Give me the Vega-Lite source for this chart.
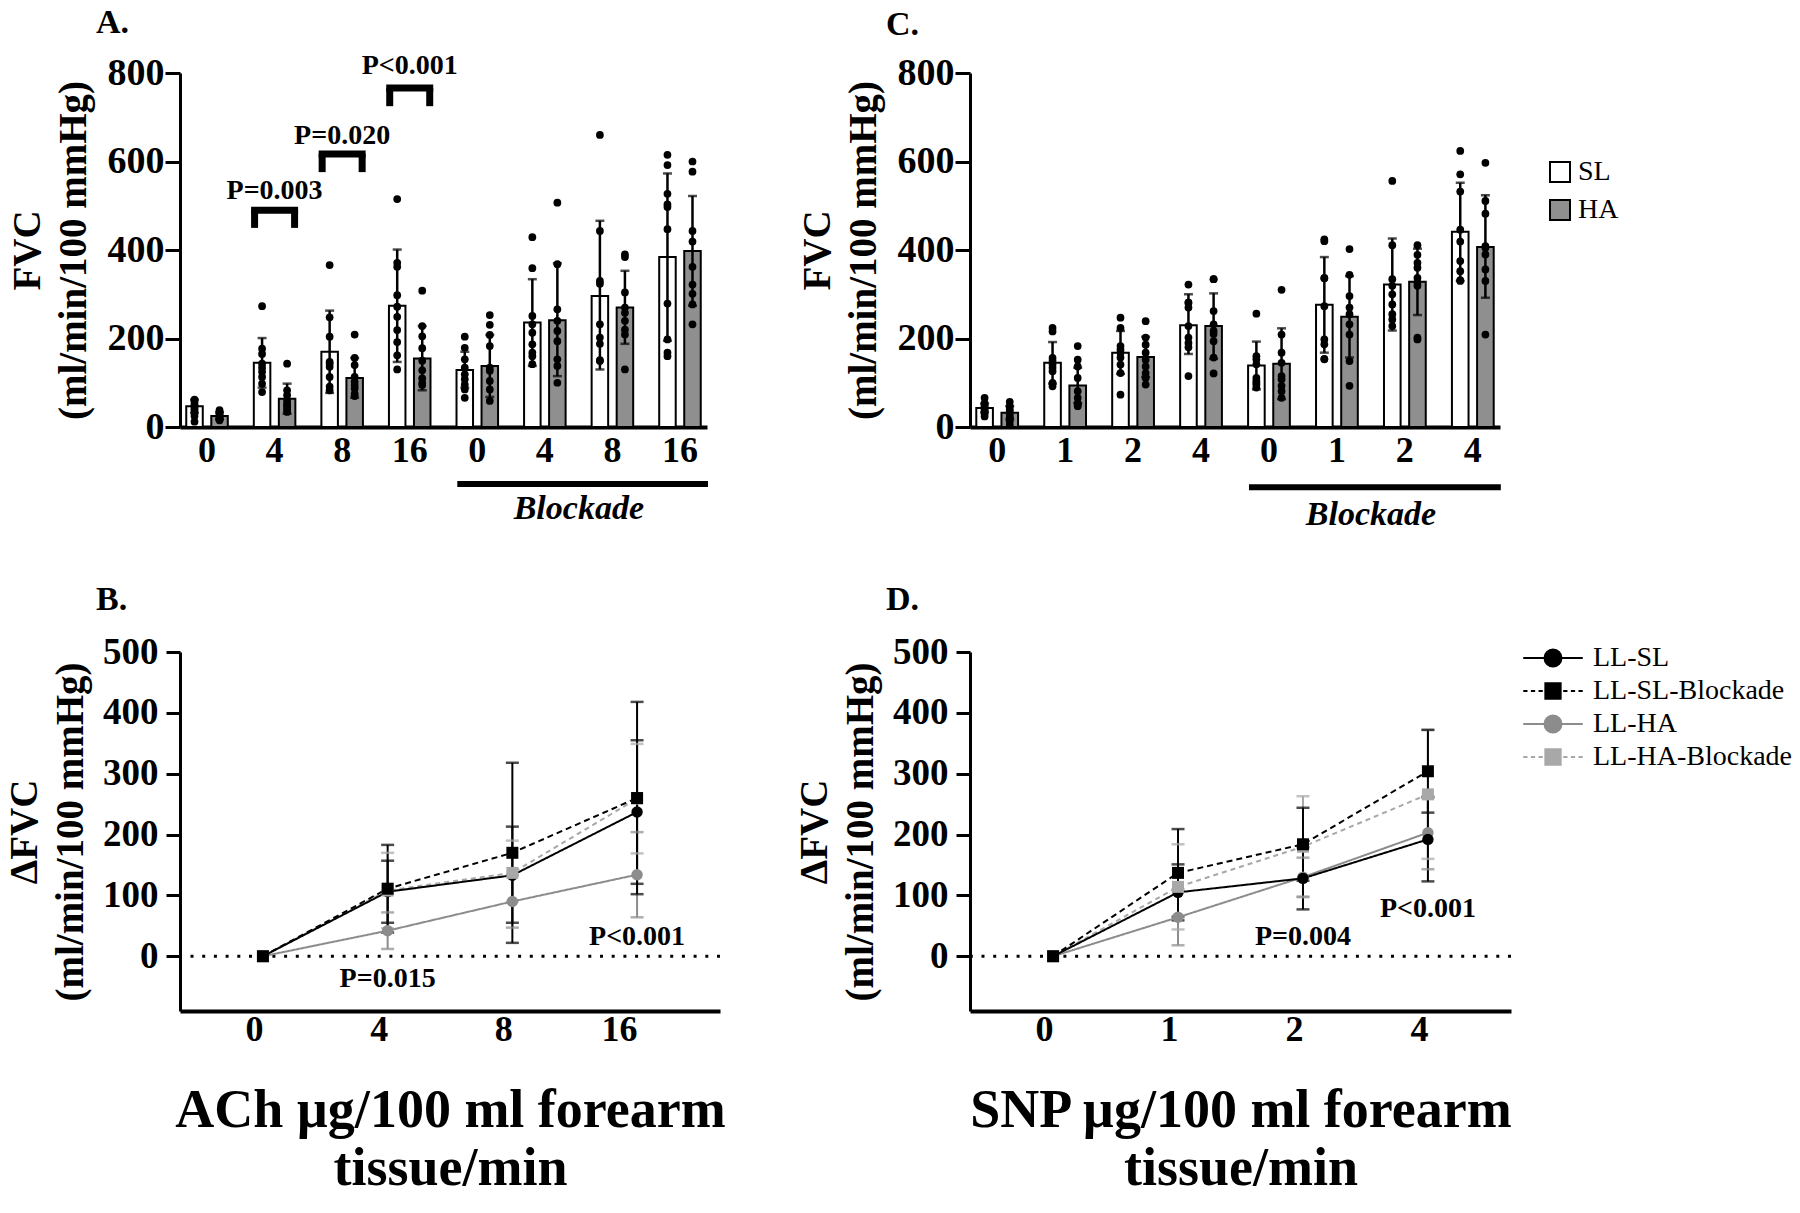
{
  "$schema": "https://vega.github.io/schema/vega-lite/v6.json",
  "background": "white",
  "padding": {"left": 5, "top": 5, "right": 5, "bottom": 5},
  "config": {
    "font": "Liberation Serif",
    "view": {"stroke": null},
    "axis": {"grid": false, "domainColor": "black", "tickColor": "black", "labelColor": "black", "titleColor": "black", "labelFont": "Liberation Serif", "titleFont": "Liberation Serif", "labelFontWeight": "bold", "titleFontWeight": "bold", "labelOverlap": false, "labelFlush": false},
    "legend": {"labelFont": "Liberation Serif", "labelColor": "black"},
    "title": {"font": "Liberation Serif", "fontWeight": "bold", "fontSize": 34, "color": "black", "anchor": "start", "frame": "group"}
  },
  "datasets": {
    "A_bars": [
      {"cat": "0", "group": "SL", "mean": 47, "lo": 32, "hi": 62},
      {"cat": "0", "group": "HA", "mean": 25, "lo": 17, "hi": 33},
      {"cat": "4", "group": "SL", "mean": 145, "lo": 89, "hi": 201},
      {"cat": "4", "group": "HA", "mean": 64, "lo": 30, "hi": 98},
      {"cat": "8", "group": "SL", "mean": 170, "lo": 77, "hi": 263},
      {"cat": "8", "group": "HA", "mean": 111, "lo": 66, "hi": 156},
      {"cat": "16", "group": "SL", "mean": 274, "lo": 147, "hi": 401},
      {"cat": "16", "group": "HA", "mean": 155, "lo": 83, "hi": 228},
      {"cat": "B0", "group": "SL", "mean": 129, "lo": 89, "hi": 170},
      {"cat": "B0", "group": "HA", "mean": 138, "lo": 68, "hi": 208},
      {"cat": "B4", "group": "SL", "mean": 236, "lo": 138, "hi": 334},
      {"cat": "B4", "group": "HA", "mean": 241, "lo": 115, "hi": 370},
      {"cat": "B8", "group": "SL", "mean": 296, "lo": 130, "hi": 466},
      {"cat": "B8", "group": "HA", "mean": 270, "lo": 188, "hi": 353},
      {"cat": "B16", "group": "SL", "mean": 384, "lo": 195, "hi": 573},
      {"cat": "B16", "group": "HA", "mean": 398, "lo": 274, "hi": 522}
    ],
    "A_dots": [
      {"cat": "0", "group": "SL", "v": [62, 58, 52, 48, 44, 40, 35, 25, 12]},
      {"cat": "0", "group": "HA", "v": [38, 34, 30, 27, 24, 22, 20, 18, 15]},
      {"cat": "4", "group": "SL", "v": [273, 177, 165, 143, 134, 125, 113, 98, 79]},
      {"cat": "4", "group": "HA", "v": [143, 83, 72, 60, 53, 49, 45, 39, 34]},
      {"cat": "8", "group": "SL", "v": [366, 248, 204, 147, 143, 136, 113, 91, 83]},
      {"cat": "8", "group": "HA", "v": [209, 156, 140, 113, 102, 94, 87, 75, 70]},
      {"cat": "16", "group": "SL", "v": [515, 371, 362, 298, 272, 249, 219, 192, 162, 130]},
      {"cat": "16", "group": "HA", "v": [308, 228, 205, 178, 150, 128, 110, 100, 95]},
      {"cat": "B0", "group": "SL", "v": [204, 179, 153, 134, 119, 108, 96, 85, 66]},
      {"cat": "B0", "group": "HA", "v": [253, 231, 208, 183, 134, 127, 104, 85, 59]},
      {"cat": "B4", "group": "SL", "v": [429, 359, 251, 232, 213, 187, 168, 160, 142]},
      {"cat": "B4", "group": "HA", "v": [507, 368, 266, 240, 217, 194, 153, 138, 100]},
      {"cat": "B8", "group": "SL", "v": [660, 443, 330, 324, 232, 202, 188, 151, 149]},
      {"cat": "B8", "group": "HA", "v": [390, 384, 304, 270, 258, 240, 220, 209, 130]},
      {"cat": "B16", "group": "SL", "v": [615, 592, 527, 503, 497, 447, 279, 198, 168, 160]},
      {"cat": "B16", "group": "HA", "v": [600, 577, 443, 419, 362, 322, 301, 277, 232]}
    ],
    "A_br": [
      {"cat": "4", "top": 490, "bot": 450},
      {"cat": "8", "top": 617, "bot": 576},
      {"cat": "16", "top": 766, "bot": 725}
    ],
    "A_p": [
      {"cat": "4", "v": 533, "label": "P=0.003"},
      {"cat": "8", "v": 658, "label": "P=0.020"},
      {"cat": "16", "v": 816, "label": "P<0.001"}
    ],
    "C_bars": [
      {"cat": "0", "group": "SL", "mean": 43, "lo": 33, "hi": 53},
      {"cat": "0", "group": "HA", "mean": 32, "lo": 17, "hi": 47},
      {"cat": "1", "group": "SL", "mean": 145, "lo": 98, "hi": 192},
      {"cat": "1", "group": "HA", "mean": 94, "lo": 54, "hi": 134},
      {"cat": "2", "group": "SL", "mean": 168, "lo": 120, "hi": 217},
      {"cat": "2", "group": "HA", "mean": 158, "lo": 113, "hi": 204},
      {"cat": "4", "group": "SL", "mean": 230, "lo": 165, "hi": 300},
      {"cat": "4", "group": "HA", "mean": 228, "lo": 154, "hi": 302},
      {"cat": "B0", "group": "SL", "mean": 139, "lo": 85, "hi": 193},
      {"cat": "B0", "group": "HA", "mean": 143, "lo": 63, "hi": 223},
      {"cat": "B1", "group": "SL", "mean": 276, "lo": 168, "hi": 384},
      {"cat": "B1", "group": "HA", "mean": 249, "lo": 157, "hi": 341},
      {"cat": "B2", "group": "SL", "mean": 322, "lo": 218, "hi": 426},
      {"cat": "B2", "group": "HA", "mean": 328, "lo": 253, "hi": 403},
      {"cat": "B4", "group": "SL", "mean": 441, "lo": 330, "hi": 552},
      {"cat": "B4", "group": "HA", "mean": 407, "lo": 292, "hi": 524}
    ],
    "C_dots": [
      {"cat": "0", "group": "SL", "v": [66, 54, 50, 47, 42, 39, 35, 30, 24]},
      {"cat": "0", "group": "HA", "v": [57, 47, 40, 35, 28, 22, 20, 13, 5]},
      {"cat": "1", "group": "SL", "v": [224, 216, 156, 149, 141, 134, 126, 100, 92]},
      {"cat": "1", "group": "HA", "v": [183, 152, 137, 111, 81, 66, 54, 51, 47]},
      {"cat": "2", "group": "SL", "v": [247, 224, 183, 175, 168, 157, 141, 122, 73]},
      {"cat": "2", "group": "HA", "v": [239, 202, 186, 168, 152, 137, 122, 111, 96]},
      {"cat": "4", "group": "SL", "v": [322, 281, 281, 270, 228, 202, 190, 180, 115]},
      {"cat": "4", "group": "HA", "v": [334, 334, 262, 232, 217, 210, 194, 157, 121]},
      {"cat": "B0", "group": "SL", "v": [256, 160, 153, 142, 111, 104, 100, 96, 89]},
      {"cat": "B0", "group": "HA", "v": [310, 209, 168, 145, 115, 108, 93, 81, 66]},
      {"cat": "B1", "group": "SL", "v": [424, 420, 337, 336, 273, 198, 187, 154, 153]},
      {"cat": "B1", "group": "HA", "v": [402, 344, 296, 270, 255, 232, 209, 149, 93]},
      {"cat": "B2", "group": "SL", "v": [556, 411, 334, 319, 300, 277, 255, 243, 228]},
      {"cat": "B2", "group": "HA", "v": [411, 389, 371, 360, 337, 326, 319, 202, 198]},
      {"cat": "B4", "group": "SL", "v": [624, 571, 532, 446, 419, 375, 352, 332, 330]},
      {"cat": "B4", "group": "HA", "v": [597, 511, 482, 409, 405, 390, 356, 330, 209]}
    ],
    "B_lines": [
      {"series": "LL-HA-Blockade", "dose": "0", "mean": 0, "lo": 0, "hi": 0},
      {"series": "LL-HA-Blockade", "dose": "4", "mean": 108, "lo": 46, "hi": 170},
      {"series": "LL-HA-Blockade", "dose": "8", "mean": 137, "lo": 90, "hi": 190},
      {"series": "LL-HA-Blockade", "dose": "16", "mean": 259, "lo": 169, "hi": 349},
      {"series": "LL-HA", "dose": "0", "mean": 0, "lo": 0, "hi": 0},
      {"series": "LL-HA", "dose": "4", "mean": 42, "lo": 12, "hi": 72},
      {"series": "LL-HA", "dose": "8", "mean": 90, "lo": 47, "hi": 133},
      {"series": "LL-HA", "dose": "16", "mean": 134, "lo": 64, "hi": 204},
      {"series": "LL-SL", "dose": "0", "mean": 0, "lo": 0, "hi": 0},
      {"series": "LL-SL", "dose": "4", "mean": 106, "lo": 55, "hi": 157},
      {"series": "LL-SL", "dose": "8", "mean": 133, "lo": 55, "hi": 213},
      {"series": "LL-SL", "dose": "16", "mean": 237, "lo": 119, "hi": 355},
      {"series": "LL-SL-Blockade", "dose": "0", "mean": 0, "lo": 0, "hi": 0},
      {"series": "LL-SL-Blockade", "dose": "4", "mean": 111, "lo": 39, "hi": 183},
      {"series": "LL-SL-Blockade", "dose": "8", "mean": 170, "lo": 22, "hi": 318},
      {"series": "LL-SL-Blockade", "dose": "16", "mean": 260, "lo": 102, "hi": 418}
    ],
    "B_p": [
      {"dose": "4", "v": -38, "label": "P=0.015"},
      {"dose": "16", "v": 31, "label": "P<0.001"}
    ],
    "D_lines": [
      {"series": "LL-HA-Blockade", "dose": "0", "mean": 0, "lo": 0, "hi": 0},
      {"series": "LL-HA-Blockade", "dose": "1", "mean": 114, "lo": 44, "hi": 184},
      {"series": "LL-HA-Blockade", "dose": "2", "mean": 180, "lo": 97, "hi": 263},
      {"series": "LL-HA-Blockade", "dose": "4", "mean": 266, "lo": 160, "hi": 372},
      {"series": "LL-HA", "dose": "0", "mean": 0, "lo": 0, "hi": 0},
      {"series": "LL-HA", "dose": "1", "mean": 64, "lo": 18, "hi": 110},
      {"series": "LL-HA", "dose": "2", "mean": 130, "lo": 98, "hi": 162},
      {"series": "LL-HA", "dose": "4", "mean": 203, "lo": 143, "hi": 263},
      {"series": "LL-SL", "dose": "0", "mean": 0, "lo": 0, "hi": 0},
      {"series": "LL-SL", "dose": "1", "mean": 105, "lo": 59, "hi": 151},
      {"series": "LL-SL", "dose": "2", "mean": 128, "lo": 77, "hi": 179},
      {"series": "LL-SL", "dose": "4", "mean": 192, "lo": 123, "hi": 261},
      {"series": "LL-SL-Blockade", "dose": "0", "mean": 0, "lo": 0, "hi": 0},
      {"series": "LL-SL-Blockade", "dose": "1", "mean": 137, "lo": 65, "hi": 209},
      {"series": "LL-SL-Blockade", "dose": "2", "mean": 184, "lo": 124, "hi": 244},
      {"series": "LL-SL-Blockade", "dose": "4", "mean": 304, "lo": 236, "hi": 372}
    ],
    "D_p": [
      {"dose": "2", "v": 31, "label": "P=0.004"},
      {"dose": "4", "v": 78, "label": "P<0.001"}
    ]
  },
  "columns": 2,
  "spacing": {"row": 225, "column": 250},
  "bounds": "flush",
  "resolve": {
    "scale": {"fill": "independent", "stroke": "independent", "color": "independent", "shape": "independent", "strokeDash": "independent", "strokeWidth": "independent", "xOffset": "independent"},
    "legend": {"fill": "independent", "stroke": "independent", "color": "independent", "shape": "independent", "strokeDash": "independent", "strokeWidth": "independent"}
  },
  "concat": [
    {
      "width": 527, "height": 354,
      "title": {"text": "A.", "dx": -84, "offset": -15, "baseline": "alphabetic"},
      "encoding": {
        "x": {"field": "cat", "type": "nominal", "sort": null,
          "scale": {"domain": ["0", "4", "8", "16", "B0", "B4", "B8", "B16"], "paddingInner": 0.2, "paddingOuter": 0},
          "axis": {"title": null, "labelExpr": "replace(datum.label, 'B', '')", "labelFontSize": 36, "labelPadding": 6, "ticks": false, "domainWidth": 4, "labelAngle": 0}}
      },
      "layer": [
        {"data": {"name": "A_bars"}, "mark": {"type": "bar", "stroke": "black", "strokeWidth": 2},
          "encoding": {
            "xOffset": {"field": "group", "type": "nominal", "sort": null, "scale": {"domain": ["SL", "HA"], "paddingInner": 0.34, "paddingOuter": 0.25}},
            "y": {"field": "mean", "type": "quantitative", "scale": {"domain": [0, 800], "nice": false},
              "axis": {"title": ["FVC", "(ml/min/100 mmHg)"], "values": [0, 200, 400, 600, 800], "labelFontSize": 38, "labelPadding": 1, "tickSize": 15, "tickWidth": 3, "domainWidth": 3, "titleFontSize": 39, "titleLineHeight": 46, "titlePadding": 14}},
            "fill": {"field": "group", "type": "nominal", "scale": {"domain": ["SL", "HA"], "range": ["white", "#8f8f8f"]}, "legend": null}
          }},
        {"data": {"name": "A_bars"}, "mark": {"type": "rule", "color": "black", "strokeWidth": 2.5},
          "encoding": {
            "xOffset": {"field": "group", "type": "nominal", "sort": null, "scale": {"domain": ["SL", "HA"], "paddingInner": 0.34, "paddingOuter": 0.25}},
            "y": {"field": "lo", "type": "quantitative", "scale": {"domain": [0, 800], "nice": false}},
            "y2": {"field": "hi"}
          }},
        {"data": {"name": "A_bars"}, "mark": {"type": "tick", "color": "black", "size": 9, "thickness": 2.5},
          "encoding": {
            "xOffset": {"field": "group", "type": "nominal", "sort": null, "scale": {"domain": ["SL", "HA"], "paddingInner": 0.34, "paddingOuter": 0.25}},
            "y": {"field": "hi", "type": "quantitative", "scale": {"domain": [0, 800], "nice": false}}
          }},
        {"data": {"name": "A_bars"}, "mark": {"type": "tick", "color": "black", "size": 9, "thickness": 2.5},
          "encoding": {
            "xOffset": {"field": "group", "type": "nominal", "sort": null, "scale": {"domain": ["SL", "HA"], "paddingInner": 0.34, "paddingOuter": 0.25}},
            "y": {"field": "lo", "type": "quantitative", "scale": {"domain": [0, 800], "nice": false}}
          }},
        {"data": {"name": "A_dots"}, "transform": [{"flatten": ["v"]}], "mark": {"type": "point", "filled": true, "color": "black", "size": 60, "opacity": 1},
          "encoding": {
            "xOffset": {"field": "group", "type": "nominal", "sort": null, "scale": {"domain": ["SL", "HA"], "paddingInner": 0.34, "paddingOuter": 0.25}},
            "y": {"field": "v", "type": "quantitative", "scale": {"domain": [0, 800], "nice": false}}
          }},
        {"data": {"name": "A_br"}, "mark": {"type": "rule", "color": "black", "strokeWidth": 7, "xOffset": -23.5, "x2Offset": 23.5},
          "encoding": {
            "x2": {"field": "cat"},
            "y": {"field": "top", "type": "quantitative", "scale": {"domain": [0, 800], "nice": false}}
          }},
        {"data": {"name": "A_br"}, "mark": {"type": "rule", "color": "black", "strokeWidth": 7, "xOffset": -20},
          "encoding": {
            "y": {"field": "bot", "type": "quantitative", "scale": {"domain": [0, 800], "nice": false}},
            "y2": {"field": "top"}
          }},
        {"data": {"name": "A_br"}, "mark": {"type": "rule", "color": "black", "strokeWidth": 7, "xOffset": 20},
          "encoding": {
            "y": {"field": "bot", "type": "quantitative", "scale": {"domain": [0, 800], "nice": false}},
            "y2": {"field": "top"}
          }},
        {"data": {"name": "A_p"}, "mark": {"type": "text", "font": "Liberation Serif", "fontWeight": "bold", "fontSize": 28, "color": "black", "baseline": "middle"},
          "encoding": {
            "y": {"field": "v", "type": "quantitative", "scale": {"domain": [0, 800], "nice": false}},
            "text": {"field": "label"}
          }},
        {"data": {"values": [{"cat": "B0", "cat2": "B16"}]}, "mark": {"type": "rule", "color": "black", "strokeWidth": 6, "xOffset": -20, "x2Offset": 28},
          "encoding": {
            "x2": {"field": "cat2"},
            "y": {"datum": -129, "type": "quantitative", "scale": {"domain": [0, 800], "nice": false}}
          }},
        {"data": {"values": [{"cat": "B4", "label": "Blockade"}]}, "mark": {"type": "text", "font": "Liberation Serif", "fontWeight": "bold", "fontStyle": "italic", "fontSize": 34, "color": "black", "baseline": "middle", "dx": 34},
          "encoding": {
            "y": {"datum": -186, "type": "quantitative", "scale": {"domain": [0, 800], "nice": false}},
            "text": {"field": "label"}
          }}
      ]
    },
    {
      "width": 530, "height": 354,
      "title": {"text": "C.", "dx": -84, "offset": -15, "baseline": "alphabetic"},
      "encoding": {
        "x": {"field": "cat", "type": "nominal", "sort": null,
          "scale": {"domain": ["0", "1", "2", "4", "B0", "B1", "B2", "B4"], "paddingInner": 0.2, "paddingOuter": 0},
          "axis": {"title": null, "labelExpr": "replace(datum.label, 'B', '')", "labelFontSize": 36, "labelPadding": 6, "ticks": false, "domainWidth": 4, "labelAngle": 0}}
      },
      "layer": [
        {"data": {"name": "C_bars"}, "mark": {"type": "bar", "stroke": "black", "strokeWidth": 2},
          "encoding": {
            "xOffset": {"field": "group", "type": "nominal", "sort": null, "scale": {"domain": ["SL", "HA"], "paddingInner": 0.34, "paddingOuter": 0.25}},
            "y": {"field": "mean", "type": "quantitative", "scale": {"domain": [0, 800], "nice": false},
              "axis": {"title": ["FVC", "(ml/min/100 mmHg)"], "values": [0, 200, 400, 600, 800], "labelFontSize": 38, "labelPadding": 1, "tickSize": 15, "tickWidth": 3, "domainWidth": 3, "titleFontSize": 39, "titleLineHeight": 46, "titlePadding": 14}},
            "fill": {"field": "group", "type": "nominal", "scale": {"domain": ["SL", "HA"], "range": ["white", "#8f8f8f"]},
              "legend": {"orient": "none", "legendX": 576, "legendY": 85, "title": null, "symbolType": "square", "symbolSize": 400, "symbolStrokeColor": "black", "symbolStrokeWidth": 2, "labelFontSize": 28, "labelFont": "Liberation Serif", "labelFontWeight": "normal", "labelOffset": 4, "labelLimit": 0, "rowPadding": 10, "padding": 0}}
          }},
        {"data": {"name": "C_bars"}, "mark": {"type": "rule", "color": "black", "strokeWidth": 2.5},
          "encoding": {
            "xOffset": {"field": "group", "type": "nominal", "sort": null, "scale": {"domain": ["SL", "HA"], "paddingInner": 0.34, "paddingOuter": 0.25}},
            "y": {"field": "lo", "type": "quantitative", "scale": {"domain": [0, 800], "nice": false}},
            "y2": {"field": "hi"}
          }},
        {"data": {"name": "C_bars"}, "mark": {"type": "tick", "color": "black", "size": 9, "thickness": 2.5},
          "encoding": {
            "xOffset": {"field": "group", "type": "nominal", "sort": null, "scale": {"domain": ["SL", "HA"], "paddingInner": 0.34, "paddingOuter": 0.25}},
            "y": {"field": "hi", "type": "quantitative", "scale": {"domain": [0, 800], "nice": false}}
          }},
        {"data": {"name": "C_bars"}, "mark": {"type": "tick", "color": "black", "size": 9, "thickness": 2.5},
          "encoding": {
            "xOffset": {"field": "group", "type": "nominal", "sort": null, "scale": {"domain": ["SL", "HA"], "paddingInner": 0.34, "paddingOuter": 0.25}},
            "y": {"field": "lo", "type": "quantitative", "scale": {"domain": [0, 800], "nice": false}}
          }},
        {"data": {"name": "C_dots"}, "transform": [{"flatten": ["v"]}], "mark": {"type": "point", "filled": true, "color": "black", "size": 60, "opacity": 1},
          "encoding": {
            "xOffset": {"field": "group", "type": "nominal", "sort": null, "scale": {"domain": ["SL", "HA"], "paddingInner": 0.34, "paddingOuter": 0.25}},
            "y": {"field": "v", "type": "quantitative", "scale": {"domain": [0, 800], "nice": false}}
          }},
        {"data": {"values": [{"cat": "B0", "cat2": "B4"}]}, "mark": {"type": "rule", "color": "black", "strokeWidth": 6, "xOffset": -20, "x2Offset": 28},
          "encoding": {
            "x2": {"field": "cat2"},
            "y": {"datum": -136, "type": "quantitative", "scale": {"domain": [0, 800], "nice": false}}
          }},
        {"data": {"values": [{"cat": "B1", "label": "Blockade"}]}, "mark": {"type": "text", "font": "Liberation Serif", "fontWeight": "bold", "fontStyle": "italic", "fontSize": 34, "color": "black", "baseline": "middle", "dx": 34},
          "encoding": {
            "y": {"datum": -198, "type": "quantitative", "scale": {"domain": [0, 800], "nice": false}},
            "text": {"field": "label"}
          }}
      ]
    },
    {
      "width": 540, "height": 359,
      "title": {"text": "B.", "dx": -84, "offset": -11, "baseline": "alphabetic"},
      "layer": [
        {"data": {"values": [{}]}, "mark": {"type": "rule", "color": "black", "strokeWidth": 3, "strokeDash": [3, 8.7]},
          "encoding": {"y": {"datum": 0, "type": "quantitative", "scale": {"domain": [-90, 500], "nice": false, "zero": false}}}},
        {"data": {"name": "B_lines"}, "transform": [{"filter": "datum.dose != '0'"}], "mark": {"type": "rule"},
          "encoding": {
            "x": {"field": "dose", "type": "ordinal", "sort": null, "scale": {"type": "point", "domain": ["0", "4", "8", "16"], "padding": 0.665}},
            "y": {"field": "lo", "type": "quantitative", "scale": {"domain": [-90, 500], "nice": false, "zero": false}},
            "y2": {"field": "hi"},
            "color": {"field": "series", "type": "nominal", "scale": {"domain": ["LL-HA-Blockade", "LL-HA", "LL-SL", "LL-SL-Blockade"], "range": ["#a8a8a8", "#8c8c8c", "black", "black"]}, "legend": null},
            "strokeWidth": {"field": "series", "type": "ordinal", "scale": {"domain": ["LL-HA-Blockade", "LL-HA", "LL-SL", "LL-SL-Blockade"], "range": [2, 2, 2.5, 2.5]}, "legend": null}
          }},
        {"data": {"name": "B_lines"}, "transform": [{"filter": "datum.dose != '0'"}], "mark": {"type": "tick", "size": 13, "thickness": 2.5},
          "encoding": {
            "x": {"field": "dose", "type": "ordinal", "sort": null, "scale": {"type": "point", "domain": ["0", "4", "8", "16"], "padding": 0.665}},
            "y": {"field": "hi", "type": "quantitative", "scale": {"domain": [-90, 500], "nice": false, "zero": false}},
            "color": {"field": "series", "type": "nominal", "scale": {"domain": ["LL-HA-Blockade", "LL-HA", "LL-SL", "LL-SL-Blockade"], "range": ["#a8a8a8", "#8c8c8c", "black", "black"]}, "legend": null}
          }},
        {"data": {"name": "B_lines"}, "transform": [{"filter": "datum.dose != '0'"}], "mark": {"type": "tick", "size": 13, "thickness": 2.5},
          "encoding": {
            "x": {"field": "dose", "type": "ordinal", "sort": null, "scale": {"type": "point", "domain": ["0", "4", "8", "16"], "padding": 0.665}},
            "y": {"field": "lo", "type": "quantitative", "scale": {"domain": [-90, 500], "nice": false, "zero": false}},
            "color": {"field": "series", "type": "nominal", "scale": {"domain": ["LL-HA-Blockade", "LL-HA", "LL-SL", "LL-SL-Blockade"], "range": ["#a8a8a8", "#8c8c8c", "black", "black"]}, "legend": null}
          }},
        {"data": {"name": "B_lines"}, "mark": {"type": "line"},
          "encoding": {
            "x": {"field": "dose", "type": "ordinal", "sort": null, "scale": {"type": "point", "domain": ["0", "4", "8", "16"], "padding": 0.665},
              "axis": {"title": ["ACh µg/100 ml forearm", "tissue/min"], "titleFontSize": 54, "titleLineHeight": 58, "titlePadding": 36, "labelFontSize": 36, "labelPadding": 18, "ticks": false, "domainWidth": 4, "labelAngle": 0}},
            "y": {"field": "mean", "type": "quantitative", "scale": {"domain": [-90, 500], "nice": false, "zero": false},
              "axis": {"title": ["ΔFVC", "(ml/min/100 mmHg)"], "values": [0, 100, 200, 300, 400, 500], "labelFontSize": 37, "labelPadding": 8, "tickSize": 14, "tickWidth": 3, "domainWidth": 3, "titleFontSize": 39, "titleLineHeight": 46, "titlePadding": 12}},
            "color": {"field": "series", "type": "nominal", "scale": {"domain": ["LL-HA-Blockade", "LL-HA", "LL-SL", "LL-SL-Blockade"], "range": ["#a8a8a8", "#8c8c8c", "black", "black"]}, "legend": null},
            "strokeDash": {"field": "series", "type": "nominal", "scale": {"domain": ["LL-HA-Blockade", "LL-HA", "LL-SL", "LL-SL-Blockade"], "range": [[5, 4], [1, 0], [1, 0], [6, 4]]}, "legend": null},
            "strokeWidth": {"field": "series", "type": "ordinal", "scale": {"domain": ["LL-HA-Blockade", "LL-HA", "LL-SL", "LL-SL-Blockade"], "range": [2, 2, 3, 3]}, "legend": null},
            "order": {"value": null}
          }},
        {"data": {"name": "B_lines"}, "transform": [{"filter": {"field": "series", "oneOf": ["LL-HA", "LL-SL"]}}], "mark": {"type": "point", "filled": true, "shape": "circle", "size": 130, "opacity": 1},
          "encoding": {
            "x": {"field": "dose", "type": "ordinal", "sort": null, "scale": {"type": "point", "domain": ["0", "4", "8", "16"], "padding": 0.665}},
            "y": {"field": "mean", "type": "quantitative", "scale": {"domain": [-90, 500], "nice": false, "zero": false}},
            "color": {"field": "series", "type": "nominal", "scale": {"domain": ["LL-HA-Blockade", "LL-HA", "LL-SL", "LL-SL-Blockade"], "range": ["#a8a8a8", "#8c8c8c", "black", "black"]}, "legend": null}
          }},
        {"data": {"name": "B_lines"}, "transform": [{"filter": {"field": "series", "oneOf": ["LL-HA-Blockade", "LL-SL-Blockade"]}}], "mark": {"type": "point", "filled": true, "shape": "square", "size": 144, "opacity": 1},
          "encoding": {
            "x": {"field": "dose", "type": "ordinal", "sort": null, "scale": {"type": "point", "domain": ["0", "4", "8", "16"], "padding": 0.665}},
            "y": {"field": "mean", "type": "quantitative", "scale": {"domain": [-90, 500], "nice": false, "zero": false}},
            "color": {"field": "series", "type": "nominal", "scale": {"domain": ["LL-HA-Blockade", "LL-HA", "LL-SL", "LL-SL-Blockade"], "range": ["#a8a8a8", "#8c8c8c", "black", "black"]}, "legend": null}
          }},
        {"data": {"name": "B_p"}, "mark": {"type": "text", "font": "Liberation Serif", "fontWeight": "bold", "fontSize": 28, "color": "black", "baseline": "middle"},
          "encoding": {
            "x": {"field": "dose", "type": "ordinal", "sort": null, "scale": {"type": "point", "domain": ["0", "4", "8", "16"], "padding": 0.665}},
            "y": {"field": "v", "type": "quantitative", "scale": {"domain": [-90, 500], "nice": false, "zero": false}},
            "text": {"field": "label"}
          }}
      ]
    },
    {
      "width": 541, "height": 359,
      "title": {"text": "D.", "dx": -84, "offset": -11, "baseline": "alphabetic"},
      "layer": [
        {"data": {"values": [{}]}, "mark": {"type": "rule", "color": "black", "strokeWidth": 3, "strokeDash": [3, 8.7]},
          "encoding": {"y": {"datum": 0, "type": "quantitative", "scale": {"domain": [-90, 500], "nice": false, "zero": false}}}},
        {"data": {"name": "D_lines"}, "transform": [{"filter": "datum.dose != '0'"}], "mark": {"type": "rule"},
          "encoding": {
            "x": {"field": "dose", "type": "ordinal", "sort": null, "scale": {"type": "point", "domain": ["0", "1", "2", "4"], "padding": 0.665}},
            "y": {"field": "lo", "type": "quantitative", "scale": {"domain": [-90, 500], "nice": false, "zero": false}},
            "y2": {"field": "hi"},
            "color": {"field": "series", "type": "nominal", "scale": {"domain": ["LL-HA-Blockade", "LL-HA", "LL-SL", "LL-SL-Blockade"], "range": ["#a8a8a8", "#8c8c8c", "black", "black"]}, "legend": null},
            "strokeWidth": {"field": "series", "type": "ordinal", "scale": {"domain": ["LL-HA-Blockade", "LL-HA", "LL-SL", "LL-SL-Blockade"], "range": [2, 2, 2.5, 2.5]}, "legend": null}
          }},
        {"data": {"name": "D_lines"}, "transform": [{"filter": "datum.dose != '0'"}], "mark": {"type": "tick", "size": 13, "thickness": 2.5},
          "encoding": {
            "x": {"field": "dose", "type": "ordinal", "sort": null, "scale": {"type": "point", "domain": ["0", "1", "2", "4"], "padding": 0.665}},
            "y": {"field": "hi", "type": "quantitative", "scale": {"domain": [-90, 500], "nice": false, "zero": false}},
            "color": {"field": "series", "type": "nominal", "scale": {"domain": ["LL-HA-Blockade", "LL-HA", "LL-SL", "LL-SL-Blockade"], "range": ["#a8a8a8", "#8c8c8c", "black", "black"]}, "legend": null}
          }},
        {"data": {"name": "D_lines"}, "transform": [{"filter": "datum.dose != '0'"}], "mark": {"type": "tick", "size": 13, "thickness": 2.5},
          "encoding": {
            "x": {"field": "dose", "type": "ordinal", "sort": null, "scale": {"type": "point", "domain": ["0", "1", "2", "4"], "padding": 0.665}},
            "y": {"field": "lo", "type": "quantitative", "scale": {"domain": [-90, 500], "nice": false, "zero": false}},
            "color": {"field": "series", "type": "nominal", "scale": {"domain": ["LL-HA-Blockade", "LL-HA", "LL-SL", "LL-SL-Blockade"], "range": ["#a8a8a8", "#8c8c8c", "black", "black"]}, "legend": null}
          }},
        {"data": {"name": "D_lines"}, "mark": {"type": "line"},
          "encoding": {
            "x": {"field": "dose", "type": "ordinal", "sort": null, "scale": {"type": "point", "domain": ["0", "1", "2", "4"], "padding": 0.665},
              "axis": {"title": ["SNP µg/100 ml forearm", "tissue/min"], "titleFontSize": 54, "titleLineHeight": 58, "titlePadding": 36, "labelFontSize": 36, "labelPadding": 18, "ticks": false, "domainWidth": 4, "labelAngle": 0}},
            "y": {"field": "mean", "type": "quantitative", "scale": {"domain": [-90, 500], "nice": false, "zero": false},
              "axis": {"title": ["ΔFVC", "(ml/min/100 mmHg)"], "values": [0, 100, 200, 300, 400, 500], "labelFontSize": 37, "labelPadding": 8, "tickSize": 14, "tickWidth": 3, "domainWidth": 3, "titleFontSize": 39, "titleLineHeight": 46, "titlePadding": 12}},
            "color": {"field": "series", "type": "nominal", "scale": {"domain": ["LL-HA-Blockade", "LL-HA", "LL-SL", "LL-SL-Blockade"], "range": ["#a8a8a8", "#8c8c8c", "black", "black"]}, "legend": null},
            "strokeDash": {"field": "series", "type": "nominal", "scale": {"domain": ["LL-HA-Blockade", "LL-HA", "LL-SL", "LL-SL-Blockade"], "range": [[5, 4], [1, 0], [1, 0], [6, 4]]}, "legend": null},
            "strokeWidth": {"field": "series", "type": "ordinal", "scale": {"domain": ["LL-HA-Blockade", "LL-HA", "LL-SL", "LL-SL-Blockade"], "range": [2, 2, 3, 3]}, "legend": null},
            "order": {"value": null}
          }},
        {"data": {"name": "D_lines"}, "transform": [{"filter": {"field": "series", "oneOf": ["LL-HA", "LL-SL"]}}], "mark": {"type": "point", "filled": true, "shape": "circle", "size": 130, "opacity": 1},
          "encoding": {
            "x": {"field": "dose", "type": "ordinal", "sort": null, "scale": {"type": "point", "domain": ["0", "1", "2", "4"], "padding": 0.665}},
            "y": {"field": "mean", "type": "quantitative", "scale": {"domain": [-90, 500], "nice": false, "zero": false}},
            "color": {"field": "series", "type": "nominal", "scale": {"domain": ["LL-HA-Blockade", "LL-HA", "LL-SL", "LL-SL-Blockade"], "range": ["#a8a8a8", "#8c8c8c", "black", "black"]}, "legend": null}
          }},
        {"data": {"name": "D_lines"}, "transform": [{"filter": {"field": "series", "oneOf": ["LL-HA-Blockade", "LL-SL-Blockade"]}}], "mark": {"type": "point", "filled": true, "shape": "square", "size": 144, "opacity": 1},
          "encoding": {
            "x": {"field": "dose", "type": "ordinal", "sort": null, "scale": {"type": "point", "domain": ["0", "1", "2", "4"], "padding": 0.665}},
            "y": {"field": "mean", "type": "quantitative", "scale": {"domain": [-90, 500], "nice": false, "zero": false}},
            "color": {"field": "series", "type": "nominal", "scale": {"domain": ["LL-HA-Blockade", "LL-HA", "LL-SL", "LL-SL-Blockade"], "range": ["#a8a8a8", "#8c8c8c", "black", "black"]}, "legend": null}
          }},
        {"data": {"name": "D_p"}, "mark": {"type": "text", "font": "Liberation Serif", "fontWeight": "bold", "fontSize": 28, "color": "black", "baseline": "middle"},
          "encoding": {
            "x": {"field": "dose", "type": "ordinal", "sort": null, "scale": {"type": "point", "domain": ["0", "1", "2", "4"], "padding": 0.665}},
            "y": {"field": "v", "type": "quantitative", "scale": {"domain": [-90, 500], "nice": false, "zero": false}},
            "text": {"field": "label"}
          }},
        {"data": {"name": "D_lines"}, "transform": [{"filter": "datum.dose == '0'"}], "mark": {"type": "point", "filled": true, "opacity": 0, "size": 289},
          "encoding": {
            "x": {"field": "dose", "type": "ordinal", "sort": null, "scale": {"type": "point", "domain": ["0", "1", "2", "4"], "padding": 0.665}},
            "y": {"field": "mean", "type": "quantitative", "scale": {"domain": [-90, 500], "nice": false, "zero": false}},
            "fill": {"field": "series", "type": "nominal", "scale": {"domain": ["LL-SL", "LL-SL-Blockade", "LL-HA", "LL-HA-Blockade"], "range": ["black", "black", "#8c8c8c", "#a8a8a8"]},
              "legend": {"orient": "none", "legendX": 569, "legendY": -8, "title": null, "symbolSize": 289, "symbolStrokeWidth": 2, "symbolOpacity": 1, "labelFontSize": 28, "labelFont": "Liberation Serif", "labelFontWeight": "normal", "labelOffset": 26, "labelLimit": 0, "rowPadding": 5, "padding": 0}},
            "stroke": {"field": "series", "type": "nominal", "scale": {"domain": ["LL-SL", "LL-SL-Blockade", "LL-HA", "LL-HA-Blockade"], "range": ["black", "black", "#8c8c8c", "#a8a8a8"]},
              "legend": {"orient": "none", "legendX": 569, "legendY": -8, "title": null, "symbolSize": 289, "symbolStrokeWidth": 2, "symbolOpacity": 1, "labelFontSize": 28, "labelFont": "Liberation Serif", "labelFontWeight": "normal", "labelOffset": 26, "labelLimit": 0, "rowPadding": 5, "padding": 0}},
            "shape": {"field": "series", "type": "nominal", "scale": {"domain": ["LL-SL", "LL-SL-Blockade", "LL-HA", "LL-HA-Blockade"], "range": [
                "M-3.5,0L-1,0M1,0L3.5,0M1,0A1,1,0,1,1,-1,0A1,1,0,1,1,1,0Z",
                "M-3.5,0L-3,0M-2.6,0L-2.1,0M-1.7,0L-1.2,0M1.2,0L1.7,0M2.1,0L2.6,0M3,0L3.5,0M-0.9,-0.9L0.9,-0.9L0.9,0.9L-0.9,0.9Z",
                "M-3.5,0L-1,0M1,0L3.5,0M1,0A1,1,0,1,1,-1,0A1,1,0,1,1,1,0Z",
                "M-3.5,0L-3,0M-2.6,0L-2.1,0M-1.7,0L-1.2,0M1.2,0L1.7,0M2.1,0L2.6,0M3,0L3.5,0M-0.9,-0.9L0.9,-0.9L0.9,0.9L-0.9,0.9Z"]},
              "legend": {"orient": "none", "legendX": 569, "legendY": -8, "title": null, "symbolSize": 289, "symbolStrokeWidth": 2, "symbolOpacity": 1, "labelFontSize": 28, "labelFont": "Liberation Serif", "labelFontWeight": "normal", "labelOffset": 26, "labelLimit": 0, "rowPadding": 5, "padding": 0}}
          }}
      ]
    }
  ]
}
